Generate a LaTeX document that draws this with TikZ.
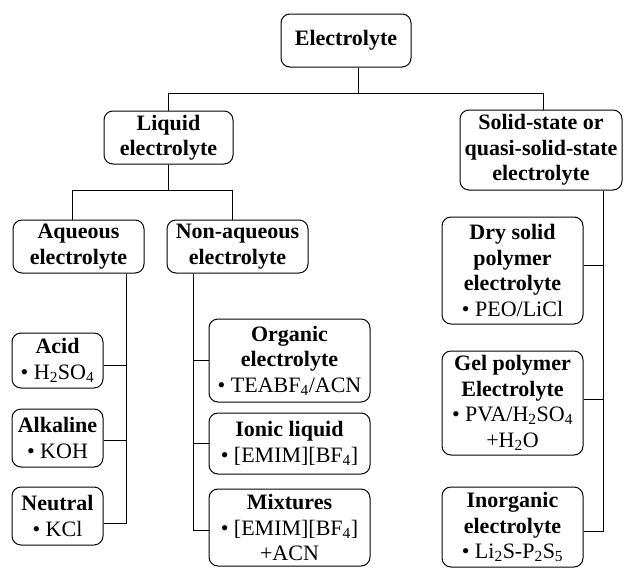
\documentclass[tikz,border=0pt]{standalone}
\usepackage{fontspec}
\setmainfont{Liberation Serif}
\usetikzlibrary{calc}
\begin{document}
\begin{tikzpicture}[x=1pt,y=-1pt,
 box/.style={draw, rounded corners=9pt, line width=1pt, align=center, inner sep=0pt, font=\fontsize{22}{25.5}\selectfont},
 wire/.style={line width=1pt}]
\useasboundingbox (0,0) rectangle (626,568);
\node[box, minimum width=130pt, minimum height=53pt] (el) at (346,40.5) {\textbf{Electrolyte}};
\node[box, minimum width=129pt, minimum height=53pt] (liq) at (168.5,137.5) {\textbf{Liquid}\\\textbf{electrolyte}};
\node[box, minimum width=162pt, minimum height=80pt] (sol) at (541,150) {\textbf{Solid-state or}\\\textbf{quasi-solid-state}\\\textbf{electrolyte}};
\node[box, minimum width=131pt, minimum height=53pt] (aq) at (78.5,246.5) {\textbf{Aqueous}\\\textbf{electrolyte}};
\node[box, minimum width=141pt, minimum height=53pt] (naq) at (237.5,246.5) {\textbf{Non-aqueous}\\\textbf{electrolyte}};
\node[box, minimum width=91pt, minimum height=55pt] (acid) at (57.5,360.5) {\textbf{Acid}\\\textbullet\ H\textsubscript{2}SO\textsubscript{4}};
\node[box, minimum width=91pt, minimum height=58pt] (alk) at (57.5,438) {\textbf{Alkaline}\\\textbullet\ KOH};
\node[box, minimum width=91pt, minimum height=58pt] (neu) at (57.5,516) {\textbf{Neutral}\\\textbullet\ KCl};
\node[box, minimum width=161pt, minimum height=83pt] (org) at (289.5,360.5) {\textbf{Organic}\\\textbf{electrolyte}\\\textbullet\ TEABF\textsubscript{4}/ACN};
\node[box, minimum width=161pt, minimum height=61pt] (ion) at (289.5,443.5) {\textbf{Ionic liquid}\\\textbullet\ [EMIM][BF\textsubscript{4}]};
\node[box, minimum width=161pt, minimum height=77pt] (mix) at (289.5,527.5) {\textbf{Mixtures}\\\textbullet\ [EMIM][BF\textsubscript{4}]\\+ACN};
\node[box, minimum width=141pt, minimum height=107pt] (dry) at (512.5,270.5) {\textbf{Dry solid}\\\textbf{polymer}\\\textbf{electrolyte}\\\textbullet\ PEO/LiCl};
\node[box, minimum width=141pt, minimum height=104pt] (gel) at (512.5,403) {\textbf{Gel polymer}\\\textbf{Electrolyte}\\\textbullet\ PVA/H\textsubscript{2}SO\textsubscript{4}\\+H\textsubscript{2}O};
\node[box, minimum width=141pt, minimum height=80pt] (ino) at (512.5,527) {\textbf{Inorganic}\\\textbf{electrolyte}\\\textbullet\ Li\textsubscript{2}S-P\textsubscript{2}S\textsubscript{5}};
% level 1
\draw[wire] ([xshift=12pt]el.south) -- ++(0,26) coordinate (b0);
\draw[wire] (liq.north) |- (b0) -| ([xshift=2pt]sol.north);
% level 2
\draw[wire] (liq.south) -- ++(0,26) coordinate (b1);
\draw[wire] ([xshift=-6.5pt]aq.north) |- (b1) -| ([xshift=-5.5pt]naq.north);
% aqueous
\coordinate (at) at ([xshift=47.5pt]aq.south);
\draw[wire] (at) |- ([yshift=-7pt]neu.east);
\draw[wire] ([yshift=-4.5pt]acid.east) -| (at);
\draw[wire] ([yshift=-2pt]alk.east) -| (at);
% non-aqueous
\coordinate (nt) at ([xshift=-44.5pt]naq.south);
\draw[wire] (nt) |- ([yshift=-2.5pt]mix.west);
\draw[wire] (org.west) -| (nt);
\draw[wire] (ion.west) -| (nt);
% solid
\coordinate (st) at ([xshift=62pt]sol.south);
\draw[wire] (st) |- ([yshift=-4pt]ino.east);
\draw[wire] ([yshift=5.5pt]dry.east) -| (st);
\draw[wire] ([yshift=4pt]gel.east) -| (st);
\end{tikzpicture}
\end{document}
